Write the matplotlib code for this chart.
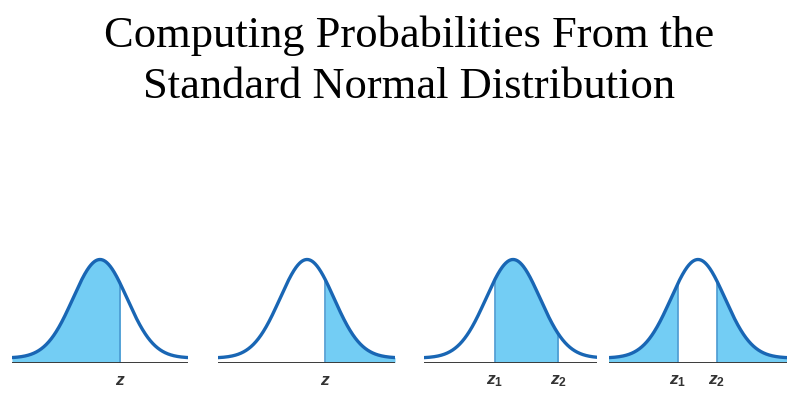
import numpy as np
import matplotlib.pyplot as plt

# Titre
title_lines = ['Computing Probabilities From the', 'Standard Normal Distribution']

# Quatre courbes: bornes de l'axe (en ecarts-types), points de coupure, zone ombree, etiquettes
x_ranges = [(-3.26, 3.26), (-3.30, 3.26), (-3.30, 3.11), (-3.30, 3.30)]
cuts = [[0.74], [0.67], [-0.67, 1.67], [-0.74, 0.70]]
modes = ['left', 'right', 'between', 'tails']
labels = [['$z$'], ['$z$'], ['$z_1$', '$z_2$'], ['$z_1$', '$z_2$']]

# Position des panneaux en pixels (gauche, largeur)
panel_px = [(12, 176), (218, 177), (424, 173), (609, 178)]

W, H = 800, 398
offset = 0.018  # la courbe ne descend pas jusqu'a l'axe

line_col = '#1966b4'
fill_col = '#73cdf4'
edge_col = '#4a9ad2'
axis_col = '#3a3a3a'

plt.rcParams['mathtext.fontset'] = 'custom'
plt.rcParams['mathtext.it'] = 'Liberation Sans:italic:bold'
plt.rcParams['mathtext.rm'] = 'Liberation Sans:bold'

fig = plt.figure(figsize=(W / 100, H / 100), dpi=100)
fig.patch.set_facecolor('white')

fig.text(409 / W, 1 - 47 / H, title_lines[0], ha='center', va='baseline',
         family='Liberation Serif', fontsize=32, color='black')
fig.text(409 / W, 1 - 98 / H, title_lines[1], ha='center', va='baseline',
         family='Liberation Serif', fontsize=32, color='black')

peak = 1 / np.sqrt(2 * np.pi) + offset

for (lo, hi), cut, mode, labs, (left, width) in zip(x_ranges, cuts, modes, labels, panel_px):
    ax = fig.add_axes([left / W, 35.5 / H, width / W, 110 / H])
    ax.set_xlim(lo, hi)
    ax.set_ylim(0, peak * 110 / 103)
    ax.axis('off')

    x = np.linspace(lo, hi, 500)
    y = np.exp(-x ** 2 / 2) / np.sqrt(2 * np.pi) + offset

    if mode == 'left':
        mask = x <= cut[0]
    elif mode == 'right':
        mask = x >= cut[0]
    elif mode == 'between':
        mask = (x >= cut[0]) & (x <= cut[1])
    else:
        mask = (x <= cut[0]) | (x >= cut[1])
    ax.fill_between(x, 0, y, where=mask, color=fill_col, linewidth=0, interpolate=True)

    for c in cut:
        yc = np.exp(-c ** 2 / 2) / np.sqrt(2 * np.pi) + offset
        ax.plot([c, c], [0, yc], color=edge_col, lw=1.2)

    ax.plot(x, y, color=line_col, lw=2.4, solid_capstyle='round')
    ax.axhline(0, color=axis_col, lw=1.4)

    for c, lab in zip(cut, labs):
        ax.annotate(lab, (c, 0), xytext=(0, -16), textcoords='offset points',
                    ha='center', va='baseline', fontsize=12.5, color='#333333')

fig.savefig('out.png', dpi=100, facecolor='white')
